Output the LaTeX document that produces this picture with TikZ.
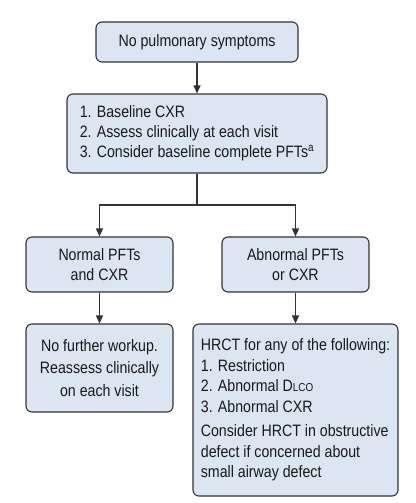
\documentclass[tikz,border=0pt]{standalone}
\usepackage{fontspec}
\setmainfont[FakeStretch=0.86]{Liberation Sans}
\usetikzlibrary{arrows.meta}
\definecolor{boxfill}{HTML}{DCE6F2}
\definecolor{boxline}{HTML}{333333}
\tikzset{
  fbox/.style={draw=boxline, fill=boxfill, line width=1.1pt, rounded corners=6pt,
    inner sep=0pt, font=\fontsize{16.5}{20}\selectfont, text=black!90},
  arr/.style={draw=boxline, line width=1.1pt, -{Triangle[length=8pt,width=7pt]}},
  ln/.style={draw=boxline, line width=1.1pt}
}
\begin{document}
\begin{tikzpicture}[x=1pt,y=-1pt]
\useasboundingbox (0,0) rectangle (415,503);
\node[fbox, minimum width=202pt, minimum height=40pt] (n1) at (197,42) {No pulmonary symptoms};
\node[fbox, minimum width=260pt, minimum height=79pt, align=left] (n2) at (197,133.5)
  {1. Baseline CXR\\2. Assess clinically at each visit\\3. Consider baseline complete PFTs\textsuperscript{a}};
\node[fbox, minimum width=147pt, minimum height=55pt, align=center] (n3) at (99.5,264.5) {Normal PFTs\\and CXR};
\node[fbox, minimum width=147pt, minimum height=55pt, align=center] (n4) at (295.5,264.5) {Abnormal PFTs\\or CXR};
\node[fbox, minimum width=147pt, minimum height=88pt, align=center, font=\fontsize{16.5}{22.5}\selectfont] (n5) at (99.5,368)
  {No further workup.\\Reassess clinically\\on each visit};
\node[fbox, minimum width=205pt, minimum height=172pt, align=left, font=\fontsize{16.5}{20.5}\selectfont] (n6) at (295.5,410)
  {HRCT for any of the following:\\1. Restriction\\2. Abnormal D{\fontsize{11.5}{12}\selectfont LCO}\\3. Abnormal CXR\\[4pt]Consider HRCT in obstructive\\defect if concerned about\\small airway defect};
\coordinate (j) at (197,205);
\draw[arr] (n1.south) -- (n2.north);
\draw[ln] (n2.south) -- (j);
\draw[arr] (j) -| (n3.north);
\draw[arr] (j) -| (n4.north);
\draw[arr] (n3.south) -- (n5.north);
\draw[arr] (n4.south) -- (n6.north);
\end{tikzpicture}
\end{document}
